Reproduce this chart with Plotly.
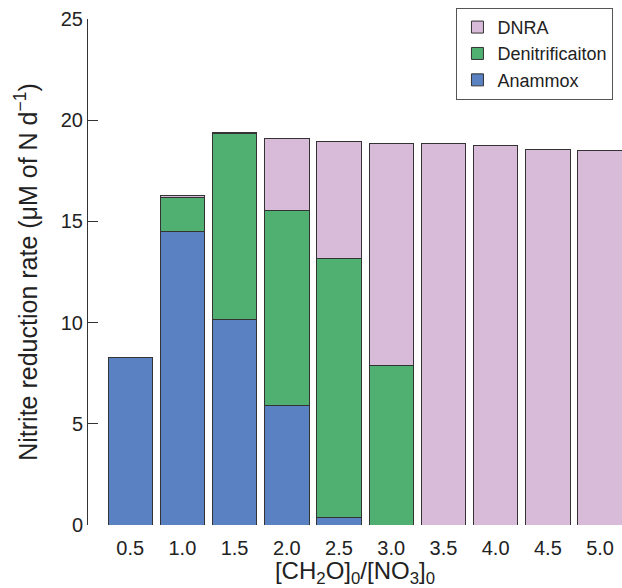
import plotly.graph_objects as go

ratios = [0.5, 1.0, 1.5, 2.0, 2.5, 3.0, 3.5, 4.0, 4.5, 5.0]
tick_labels = ["0.5", "1.0", "1.5", "2.0", "2.5", "3.0", "3.5", "4.0", "4.5", "5.0"]
anammox = [8.30, 14.48, 10.13, 5.88, 0.35, None, None, None, None, None]
denitrification = [None, 1.68, 9.19, 9.68, 12.84, 7.86, None, None, None, None]
dnra = [None, 0.14, 0.05, 3.56, 5.78, 11.01, 18.87, 18.77, 18.53, 18.48]

colors = {"Anammox": "#5a81c2", "Denitrificaiton": "#4fb071", "DNRA": "#d7bbd9"}
line = dict(color="#333333", width=1)

fig = go.Figure()
for name, vals in [("Anammox", anammox), ("Denitrificaiton", denitrification), ("DNRA", dnra)]:
    fig.add_trace(go.Bar(x=ratios, y=vals, name=name, width=0.425,
                         marker=dict(color=colors[name], line=line)))

font = "Liberation Sans, Arial, sans-serif"
fig.update_layout(
    width=622, height=588,
    barmode="stack",
    plot_bgcolor="white", paper_bgcolor="white",
    margin=dict(l=88, r=0, t=19, b=63),
    font=dict(family=font, size=20, color="#222222"),
    showlegend=True,
    legend=dict(x=0.69, y=1.022, xanchor="left", yanchor="top",
                traceorder="reversed", bordercolor="#555555", borderwidth=1,
                font=dict(size=18), bgcolor="white", itemwidth=30,
                tracegroupgap=0),
    xaxis=dict(range=[0.096, 5.21], tickvals=ratios, ticktext=tick_labels,
               showline=False, showgrid=False, zeroline=False, ticks="",
               automargin=False, ticklabelstandoff=9,
               title=dict(text="[CH<sub>2</sub>O]<sub>0</sub>/[NO<sub>3</sub>]<sub>0</sub>",
                          font=dict(size=24), standoff=5)),
    yaxis=dict(range=[0, 25], tickvals=[0, 5, 10, 15, 20, 25],
               showline=True, linecolor="#333333", linewidth=1,
               ticks="inside", ticklen=10, tickcolor="#333333",
               showgrid=False, zeroline=False, automargin=False,
               title=dict(text="Nitrite reduction rate (μM of N d<sup>−1</sup>)",
                          font=dict(size=25), standoff=16)),
)
fig.write_html("out.html", config={"displayModeBar": False},
               post_script="document.body.style.margin='0';")
